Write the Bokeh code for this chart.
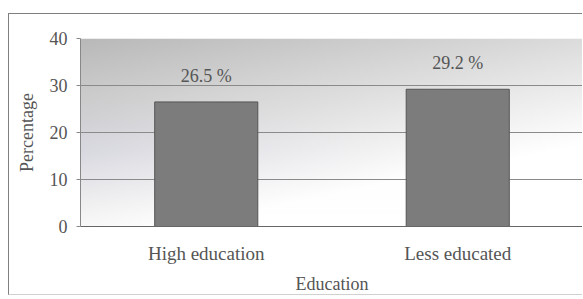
import numpy as np
from bokeh.plotting import figure
from bokeh.models import FixedTicker, ColumnDataSource, Range1d
from bokeh.core.properties import value
from bokeh.embed import file_html
from bokeh.resources import INLINE

categories = ["High education", "Less educated"]
values = [26.5, 29.2]
labels = ["26.5 %", "29.2 %"]
y_ticks = [0, 10, 20, 30, 40]

FONT = "'Liberation Serif', 'Times New Roman', serif"
TXT = "#555555"

p = figure(width=574, height=282, output_backend="svg", toolbar_location=None,
           x_range=Range1d(0, 2), y_range=Range1d(0, 40),
           min_border_left=71, min_border_right=0, min_border_top=24, min_border_bottom=70)
p.styles = {"margin-left": "8px", "margin-top": "13px",
            "border-top": "1px solid #808080", "border-left": "1px solid #808080",
            "border-bottom": "1px solid #d0d0d0"}
p.outline_line_color = None
p.background_fill_color = "white"
p.border_fill_color = "white"

# gradient background of the plot area (decorative)
ny, nx = 120, 200
img = np.empty((ny, nx), dtype=np.uint32)
view = img.view(dtype=np.uint8).reshape((ny, nx, 4))
yy, xx = np.mgrid[0:ny, 0:nx]
u = 1.0 - yy / (ny - 1)  # 0 at top
v = xx / (nx - 1)
dark = 70 * np.clip(1 - 0.9 * u - 0.5 * v, 0, 1)
tint = 6 * np.clip(1 - np.abs(u - 0.6) * 3, 0, 1) * np.clip(1 - v * 1.5, 0, 1)
view[:, :, 0] = np.clip(255 - dark - tint, 0, 255).astype(np.uint8)
view[:, :, 1] = np.clip(255 - dark - tint, 0, 255).astype(np.uint8)
view[:, :, 2] = np.clip(255 - dark + tint * 0.3, 0, 255).astype(np.uint8)
view[:, :, 3] = 255
bg = p.image_rgba(image=[img], x=0, y=0, dw=2, dh=40)
bg.level = "image"

xs = [i + 0.5 for i in range(len(categories))]
src = ColumnDataSource(dict(x=xs, top=values, lab=labels))
p.vbar(x="x", top="top", width=0.41, bottom=0, source=src,
       fill_color="#7c7c7c", line_color="#555555", line_width=1)
p.text(x="x", y="top", text="lab", source=src, text_align="center", text_baseline="middle",
       y_offset=-26, text_font=value(FONT), text_font_size="18px", text_color=TXT)

# grids
p.xgrid.grid_line_color = None
p.ygrid.ticker = FixedTicker(ticks=y_ticks)
p.ygrid.grid_line_color = "#8a8a8a"
p.ygrid.grid_line_width = 1

# y axis
p.yaxis.ticker = FixedTicker(ticks=y_ticks)
p.yaxis.axis_label = "Percentage"
p.yaxis.axis_line_color = "#888888"
p.yaxis.major_tick_line_color = "#888888"
p.yaxis.major_tick_out = 4
p.yaxis.major_tick_in = 0
p.yaxis.minor_tick_line_color = None
p.yaxis.major_label_text_font = FONT
p.yaxis.major_label_text_font_size = "18px"
p.yaxis.major_label_text_color = TXT
p.yaxis.major_label_standoff = 9
p.yaxis.axis_label_text_font = FONT
p.yaxis.axis_label_text_font_size = "18px"
p.yaxis.axis_label_text_font_style = "normal"
p.yaxis.axis_label_text_color = TXT
p.yaxis.axis_label_standoff = 10

# x axis
p.xaxis.ticker = FixedTicker(ticks=xs)
p.xaxis.major_label_overrides = {x: c for x, c in zip(xs, categories)}
p.xaxis.axis_label = "Education"
p.xaxis.axis_line_color = "#666666"
p.xaxis.major_tick_line_color = None
p.xaxis.minor_tick_line_color = None
p.xaxis.major_label_text_font = FONT
p.xaxis.major_label_text_font_size = "19px"
p.xaxis.major_label_text_color = TXT
p.xaxis.major_label_standoff = 10
p.xaxis.axis_label_text_font = FONT
p.xaxis.axis_label_text_font_size = "18px"
p.xaxis.axis_label_text_font_style = "normal"
p.xaxis.axis_label_text_color = TXT
p.xaxis.axis_label_standoff = 7

open("out.html", "w").write(file_html(p, INLINE))
